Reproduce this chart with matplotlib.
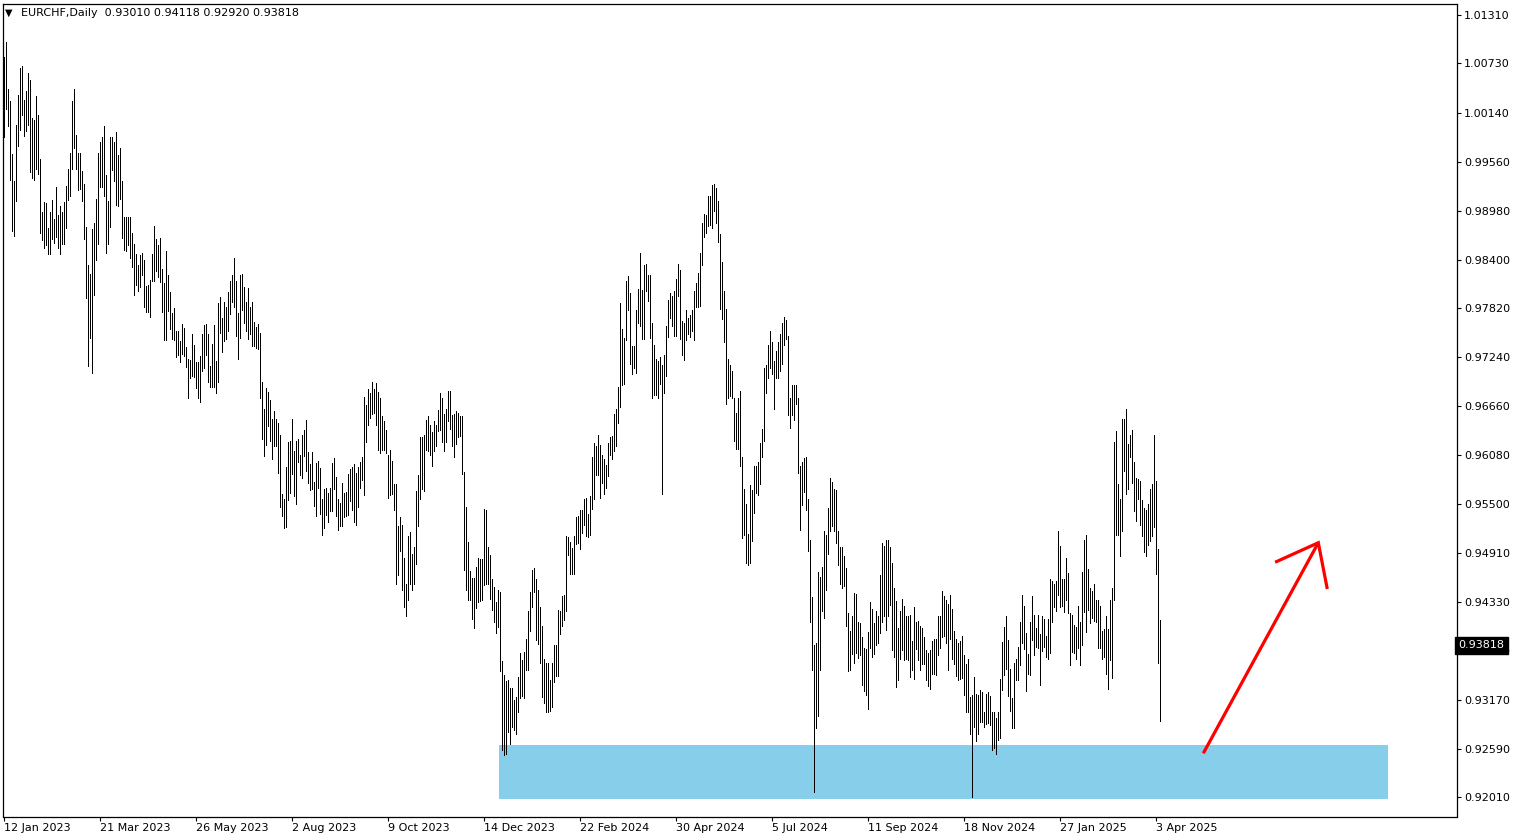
import numpy as np
import matplotlib
matplotlib.use('Agg')
import matplotlib.pyplot as plt
from matplotlib.patches import Rectangle
from matplotlib.transforms import blended_transform_factory

# EURCHF daily bars, high / low in 1e-4 (pips), bar 1 = 12 Jan 2023
high_pips = [
    10080, 10098, 10042, 10028, 9965, 9933, 10000, 10035, 10067, 10070,
    10029, 10040, 10062, 10053, 10008, 10006, 10034, 10012, 9959, 9896,
    9908, 9907, 9878, 9897, 9911, 9888, 9926, 9893, 9903, 9897,
    9908, 9927, 9947, 9966, 10028, 10042, 9988, 9967, 9966, 9945,
    9930, 9879, 9834, 9823, 9876, 9883, 9912, 9966, 9979, 9985,
    9998, 9940, 9909, 9986, 9986, 9980, 9991, 9964, 9972, 9933,
    9890, 9891, 9890, 9891, 9871, 9859, 9846, 9834, 9845, 9848,
    9839, 9809, 9810, 9816, 9846, 9880, 9864, 9857, 9866, 9829,
    9812, 9850, 9822, 9801, 9777, 9782, 9755, 9755, 9743, 9763,
    9759, 9736, 9722, 9721, 9751, 9739, 9718, 9718, 9725,
    9752, 9762, 9763, 9751, 9714, 9740, 9762, 9719, 9788, 9795,
    9770, 9790, 9784, 9801, 9814, 9821, 9842, 9815, 9777, 9822,
    9823, 9807, 9790, 9806, 9784, 9790, 9766, 9760, 9763, 9753,
    9695, 9662, 9687, 9683, 9673, 9650, 9660, 9651, 9646, 9631,
    9562, 9556, 9593, 9623, 9624, 9650, 9613, 9624, 9627, 9608,
    9632, 9637, 9649, 9611, 9597, 9611, 9576, 9598, 9601, 9592,
    9556, 9567, 9569, 9563, 9569, 9598, 9604, 9582, 9556, 9551,
    9575, 9563, 9564, 9585, 9591, 9593, 9597, 9586, 9593, 9599,
    9605, 9677, 9667, 9686, 9682, 9694, 9686, 9693, 9683, 9676,
    9654, 9648, 9638, 9608, 9614, 9601, 9573, 9573, 9523, 9534,
    9525, 9485, 9455, 9512, 9516, 9490, 9499, 9565, 9584, 9629,
    9629, 9631, 9649, 9654, 9644, 9635, 9648, 9644, 9661, 9681,
    9675, 9656, 9663, 9684, 9684, 9655, 9657, 9660, 9658, 9654,
    9654, 9588, 9546, 9505, 9470, 9462, 9462, 9475, 9486, 9484,
    9484, 9544, 9542, 9499, 9489, 9461, 9451, 9433, 9448, 9445,
    9363, 9346, 9339, 9340, 9331, 9331, 9317, 9320, 9344, 9373,
    9364, 9374, 9389, 9422, 9445, 9471, 9473, 9461, 9448, 9427,
    9405, 9365, 9361, 9361, 9340, 9361, 9382, 9382, 9424, 9423,
    9440, 9442, 9511, 9510, 9505, 9497, 9511, 9534, 9535, 9543,
    9543, 9556, 9557, 9538, 9559, 9605, 9622, 9618, 9631, 9620,
    9608, 9603, 9596, 9622, 9629, 9630, 9656, 9663, 9688, 9788,
    9757, 9747, 9814, 9820, 9800, 9737, 9737, 9780, 9805, 9848,
    9804, 9834, 9835, 9821, 9821, 9764, 9739, 9722, 9719, 9724,
    9715, 9726, 9761, 9792, 9800, 9797, 9802, 9817, 9835, 9827,
    9767, 9765, 9780, 9771, 9774, 9780, 9802, 9812, 9824, 9848,
    9883, 9894, 9893, 9916, 9916, 9929, 9930, 9925, 9910, 9870,
    9837, 9802, 9781, 9722, 9715, 9708, 9676, 9658, 9675, 9684,
    9605, 9567, 9550, 9514, 9572, 9566, 9595, 9595, 9600, 9622,
    9639, 9711, 9715, 9738, 9755, 9742, 9719, 9731, 9742, 9751,
    9764, 9772, 9768, 9749, 9675, 9691, 9691, 9691, 9676, 9595,
    9599, 9604, 9606, 9556, 9507, 9439, 9382, 9384, 9469, 9463,
    9475, 9518, 9513, 9545, 9581, 9576, 9568, 9566, 9517, 9499,
    9498, 9488, 9473, 9420, 9399, 9417, 9444, 9443, 9410, 9408,
    9392, 9379, 9377, 9397, 9433, 9425, 9408, 9422, 9416, 9465,
    9503, 9500, 9507, 9507, 9498, 9479, 9450, 9434, 9402, 9422,
    9437, 9429, 9417, 9417, 9418, 9387, 9427, 9410, 9411, 9405,
    9402, 9392, 9376, 9373, 9376, 9387, 9389, 9389, 9416, 9417,
    9446, 9440, 9436, 9431, 9442, 9425, 9399, 9389, 9385, 9387,
    9393, 9370, 9360, 9365, 9320, 9323, 9344, 9324, 9323, 9329,
    9326, 9302, 9324, 9326, 9322, 9302, 9302, 9296, 9303, 9342,
    9386, 9404, 9417, 9388, 9354, 9319, 9361, 9366, 9380, 9409,
    9441, 9428, 9396, 9372, 9409, 9440, 9418, 9402, 9418, 9395,
    9416, 9413, 9393, 9413, 9460, 9458, 9454, 9458, 9517, 9500,
    9461, 9460, 9485, 9468, 9420, 9418, 9406, 9403, 9429, 9409,
    9469, 9507, 9513, 9472, 9450, 9446, 9454, 9435, 9435, 9428,
    9399, 9401, 9416, 9401, 9435, 9450, 9623, 9636, 9573, 9556,
    9650, 9650, 9662, 9621, 9632, 9637, 9599, 9580, 9579, 9577,
    9554, 9545, 9542, 9550, 9568, 9573, 9632, 9577, 9496, 9412,
]
low_pips = [
    9986, 10019, 9999, 9935, 9874, 9868, 9910, 9975, 9994, 10012,
    9987, 9993, 10000, 9944, 9937, 9934, 9948, 9941, 9871, 9863,
    9854, 9857, 9846, 9847, 9864, 9860, 9867, 9854, 9847, 9858,
    9858, 9878, 9911, 9915, 9948, 9973, 9947, 9922, 9924, 9909,
    9864, 9794, 9713, 9747, 9705, 9798, 9839, 9858, 9926, 9926,
    9915, 9848, 9858, 9879, 9946, 9933, 9905, 9903, 9912, 9866,
    9851, 9850, 9857, 9842, 9831, 9798, 9810, 9803, 9807, 9822,
    9783, 9778, 9778, 9772, 9815, 9815, 9826, 9819, 9813, 9778,
    9744, 9744, 9779, 9758, 9746, 9744, 9724, 9726, 9718, 9728,
    9725, 9712, 9676, 9699, 9702, 9700, 9687, 9675, 9671,
    9708, 9711, 9727, 9695, 9688, 9689, 9688, 9682, 9695, 9753,
    9730, 9743, 9745, 9755, 9775, 9789, 9783, 9749, 9722, 9747,
    9780, 9765, 9755, 9745, 9751, 9737, 9737, 9735, 9734, 9675,
    9627, 9607, 9620, 9642, 9625, 9603, 9618, 9618, 9587, 9546,
    9535, 9521, 9522, 9554, 9563, 9585, 9559, 9550, 9599, 9584,
    9580, 9607, 9589, 9574, 9566, 9567, 9547, 9535, 9569, 9538,
    9513, 9521, 9537, 9528, 9541, 9541, 9568, 9535, 9519, 9524,
    9523, 9534, 9535, 9536, 9553, 9543, 9528, 9525, 9546, 9569,
    9578, 9560, 9623, 9644, 9652, 9657, 9658, 9644, 9614, 9610,
    9614, 9614, 9610, 9557, 9560, 9562, 9543, 9455, 9465, 9494,
    9448, 9427, 9416, 9436, 9455, 9447, 9455, 9478, 9524, 9555,
    9567, 9565, 9614, 9613, 9608, 9595, 9612, 9618, 9636, 9637,
    9623, 9612, 9623, 9648, 9639, 9618, 9605, 9621, 9629, 9630,
    9585, 9471, 9448, 9436, 9435, 9413, 9402, 9426, 9433, 9434,
    9435, 9453, 9454, 9454, 9437, 9424, 9409, 9396, 9404, 9351,
    9257, 9252, 9253, 9279, 9264, 9285, 9281, 9277, 9302, 9319,
    9322, 9319, 9352, 9352, 9399, 9427, 9445, 9388, 9383, 9361,
    9320, 9313, 9303, 9303, 9304, 9308, 9338, 9345, 9345, 9395,
    9405, 9412, 9422, 9489, 9467, 9466, 9466, 9502, 9503, 9496,
    9515, 9525, 9511, 9510, 9513, 9544, 9555, 9584, 9584, 9557,
    9575, 9562, 9569, 9583, 9608, 9603, 9612, 9619, 9646, 9665,
    9691, 9692, 9744, 9780, 9716, 9704, 9711, 9705, 9764, 9761,
    9745, 9745, 9802, 9791, 9747, 9676, 9679, 9679, 9675, 9692,
    9562, 9682, 9702, 9748, 9771, 9761, 9749, 9749, 9797, 9745,
    9726, 9721, 9744, 9751, 9748, 9755, 9744, 9784, 9784, 9785,
    9833, 9867, 9871, 9880, 9881, 9878, 9898, 9883, 9861, 9781,
    9769, 9742, 9668, 9675, 9678, 9676, 9625, 9615, 9615, 9595,
    9509, 9513, 9480, 9477, 9480, 9506, 9539, 9563, 9560, 9573,
    9605, 9625, 9681, 9699, 9711, 9704, 9663, 9699, 9699, 9708,
    9716, 9739, 9745, 9655, 9640, 9655, 9649, 9668, 9586, 9519,
    9548, 9564, 9543, 9494, 9410, 9352, 9208, 9284, 9298, 9353,
    9422, 9414, 9447, 9490, 9518, 9524, 9517, 9503, 9477, 9455,
    9450, 9452, 9405, 9351, 9352, 9371, 9361, 9373, 9367, 9370,
    9335, 9328, 9323, 9306, 9378, 9368, 9371, 9382, 9384, 9396,
    9409, 9416, 9400, 9417, 9430, 9376, 9368, 9332, 9340, 9366,
    9376, 9364, 9365, 9364, 9344, 9352, 9342, 9377, 9364, 9352,
    9359, 9359, 9341, 9334, 9330, 9348, 9348, 9347, 9370, 9379,
    9392, 9393, 9384, 9353, 9389, 9366, 9360, 9345, 9340, 9342,
    9343, 9323, 9303, 9303, 9277, 9201, 9285, 9268, 9276, 9291,
    9291, 9285, 9288, 9290, 9287, 9257, 9260, 9253, 9269, 9272,
    9329, 9346, 9354, 9321, 9304, 9284, 9284, 9340, 9341, 9358,
    9385, 9377, 9327, 9348, 9347, 9388, 9370, 9380, 9379, 9335,
    9375, 9380, 9368, 9365, 9373, 9410, 9427, 9423, 9441, 9427,
    9428, 9421, 9436, 9420, 9358, 9374, 9373, 9365, 9379, 9358,
    9382, 9421, 9398, 9424, 9408, 9414, 9411, 9409, 9379, 9379,
    9365, 9368, 9348, 9330, 9364, 9343, 9435, 9513, 9513, 9488,
    9518, 9589, 9562, 9567, 9606, 9575, 9541, 9529, 9555, 9525,
    9511, 9493, 9488, 9501, 9506, 9511, 9522, 9466, 9361, 9292,
]

date_labels = ['12 Jan 2023', '21 Mar 2023', '26 May 2023', '2 Aug 2023',
               '9 Oct 2023', '14 Dec 2023', '22 Feb 2024', '30 Apr 2024',
               '5 Jul 2024', '11 Sep 2024', '18 Nov 2024', '27 Jan 2025',
               '3 Apr 2025']
price_labels = ['1.01310', '1.00730', '1.00140', '0.99560', '0.98980',
                '0.98400', '0.97820', '0.97240', '0.96660', '0.96080',
                '0.95500', '0.94910', '0.94330', '0.93750', '0.93170',
                '0.92590', '0.92010']
last_ohlc = [0.93010, 0.94118, 0.92920, 0.93818]

# support zone (bar index from/to, price bottom/top)
zone_bars = [248.75, 693.25]
zone_prices = [0.91992, 0.92634]
# hand drawn arrow: shaft start, tip, two barbs (bar index, price)
arrow_start = (600.9, 0.92535)
arrow_tip = (658.4, 0.95036)
arrow_barb_l = (636.8, 0.94804)
arrow_barb_r = (662.9, 0.94486)

highs = np.array(high_pips) / 10000
lows = np.array(low_pips) / 10000
bars = np.arange(1, len(highs) + 1)

W, H = 1519, 840
fig = plt.figure(figsize=(W / 100, H / 100), dpi=100)
ax = fig.add_axes([2.5 / W, 1 - 816.5 / H, 1454 / W, 813 / H])

ax.add_patch(Rectangle((zone_bars[0], zone_prices[0]), zone_bars[1] - zone_bars[0],
                       zone_prices[1] - zone_prices[0], facecolor='#87CEEB',
                       edgecolor='none', zorder=0))
# one pixel wide bars, 2 px apart
ax.vlines(bars, lows, highs, colors='black', linewidth=0.5, antialiased=False, zorder=2)

ax.plot([arrow_start[0], arrow_tip[0]], [arrow_start[1], arrow_tip[1]],
        color='#FF0000', lw=2.3, solid_capstyle='butt', zorder=3)
ax.plot([arrow_barb_l[0], arrow_tip[0], arrow_barb_r[0]],
        [arrow_barb_l[1], arrow_tip[1], arrow_barb_r[1]],
        color='#FF0000', lw=2.3, solid_capstyle='butt', solid_joinstyle='miter', zorder=3)

ax.set_xlim(0.5, 727.5)
ax.set_ylim(0.917842, 1.014407)

for s in ax.spines.values():
    s.set_linewidth(0.9)
    s.set_color('black')

ax.set_xticks(1 + 48 * np.arange(len(date_labels)))
ax.set_xticklabels(date_labels, ha='left', fontsize=8, family='DejaVu Sans')
ax.set_yticks([float(p) for p in price_labels])
ax.set_yticklabels(price_labels, fontsize=8, family='DejaVu Sans')
ax.yaxis.tick_right()
ax.tick_params(axis='x', direction='out', length=3, width=0.8, pad=1.5, colors='black')
ax.tick_params(axis='y', direction='out', length=3, width=0.8, pad=2.5, colors='black')

# current price marker on the price scale
trans = blended_transform_factory(ax.transAxes, ax.transData)
ax.text(1.0015, last_ohlc[3], f'{last_ohlc[3]:.5f}', transform=trans, color='white',
        fontsize=8, family='DejaVu Sans', ha='left', va='center', clip_on=False, zorder=10,
        bbox=dict(boxstyle='square,pad=0.3', facecolor='black', edgecolor='black'))

title = 'EURCHF,Daily  ' + ' '.join(f'{v:.5f}' for v in last_ohlc)
fig.text(5 / W, 1 - 12.5 / H, '\u25BC', fontsize=7, family='DejaVu Sans', va='center', ha='left')
fig.text(21 / W, 1 - 12.5 / H, title, fontsize=8, family='DejaVu Sans', va='center', ha='left')

fig.savefig('out.png', dpi=100)
